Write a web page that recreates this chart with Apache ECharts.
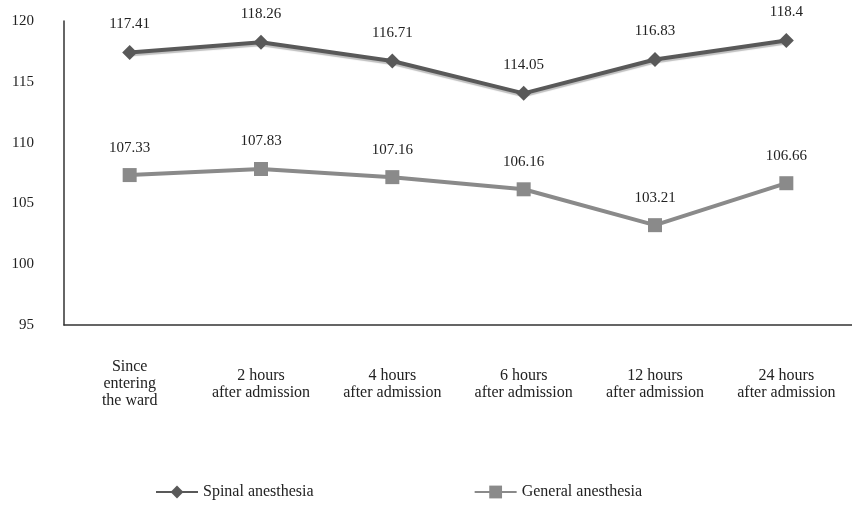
<!DOCTYPE html>
<html>
<head>
<meta charset="utf-8">
<script src="https://cdn.jsdelivr.net/npm/echarts@6/dist/echarts.min.js"></script>
<style>
  html, body { margin: 0; padding: 0; background: #fff; }
  #chart { width: 852px; height: 505px; }
</style>
</head>
<body>
<div id="chart"></div>
<script>
// Time points after surgery
const categories = [
  'Since\nentering\nthe ward',
  '2 hours\nafter admission',
  '4 hours\nafter admission',
  '6 hours\nafter admission',
  '12 hours\nafter admission',
  '24 hours\nafter admission'
];
const spinalValues = [117.41, 118.26, 116.71, 114.05, 116.83, 118.4];
const generalValues = [107.33, 107.83, 107.16, 106.16, 103.21, 106.66];
const seriesNames = ['Spinal anesthesia', 'General anesthesia'];

const FONT = 'Liberation Serif';
const chart = echarts.init(document.getElementById('chart'), null, { renderer: 'canvas' });

const valueLabel = {
  show: true,
  position: 'top',
  distance: 13,
  fontFamily: FONT,
  fontSize: 15,
  color: '#222'
};

chart.setOption({
  animation: false,
  backgroundColor: '#ffffff',
  textStyle: { fontFamily: FONT, color: '#222' },
  grid: { left: 64, right: -10, top: 21, bottom: 180, containLabel: false },
  legend: {
    bottom: 5,
    left: 155,
    padding: 0,
    itemGap: 160,
    itemWidth: 42,
    itemHeight: 16,
    textStyle: { fontFamily: FONT, fontSize: 16, color: '#222' },
    data: seriesNames
  },
  xAxis: {
    type: 'category',
    data: categories,
    boundaryGap: true,
    axisLine: { lineStyle: { color: '#333', width: 1.5 } },
    axisTick: { show: false },
    axisLabel: {
      interval: 0,
      margin: 59,
      verticalAlign: 'middle',
      fontFamily: FONT,
      fontSize: 16,
      lineHeight: 17,
      color: '#222'
    }
  },
  yAxis: {
    type: 'value',
    min: 95,
    max: 120,
    interval: 5,
    splitLine: { show: false },
    axisLine: { show: true, lineStyle: { color: '#333', width: 1.5 } },
    axisTick: { show: false },
    axisLabel: { margin: 30, fontFamily: FONT, fontSize: 15, color: '#222' }
  },
  series: [
    {
      name: seriesNames[0],
      type: 'line',
      data: spinalValues,
      symbol: 'diamond',
      symbolSize: 15,
      lineStyle: {
        color: '#595959', width: 4,
        shadowColor: 'rgba(0,0,0,0.25)', shadowBlur: 1, shadowOffsetY: 2
      },
      itemStyle: { color: '#595959' },
      label: valueLabel
    },
    {
      name: seriesNames[1],
      type: 'line',
      data: generalValues,
      symbol: 'rect',
      symbolSize: 14,
      lineStyle: { color: '#8a8a8a', width: 4 },
      itemStyle: { color: '#8a8a8a' },
      label: valueLabel
    }
  ]
});
</script>
</body>
</html>
